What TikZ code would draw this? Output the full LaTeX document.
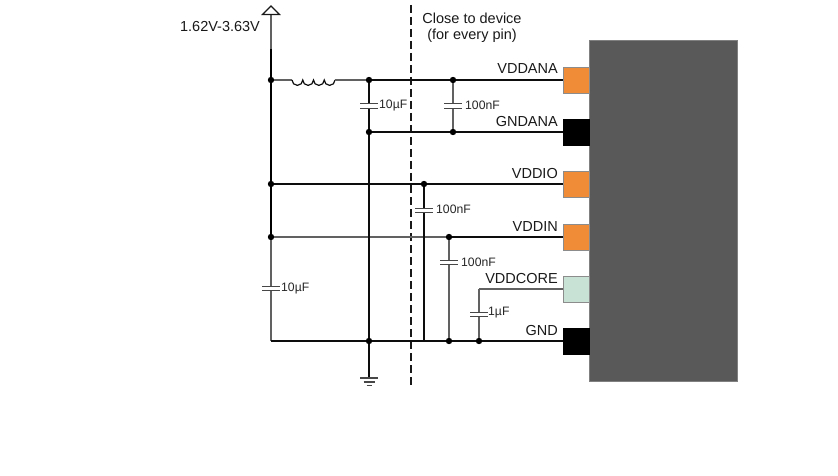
\documentclass[tikz,border=0pt]{standalone}
\usepackage{fontspec}
\setmainfont{Liberation Sans}
\tikzset{
  wire/.style={line width=1.25pt,draw=black!95},
  greywire/.style={line width=1.35pt,draw=black!62},
  heavy/.style={line width=2pt,draw=black},
  plate/.style={line width=1.1pt,draw=black!72},
  dot/.style={circle,fill=black,inner sep=0pt,minimum size=6.4pt},
  pinbox/.style={draw=black!45,line width=0.8pt,minimum width=25.5pt,minimum height=26pt,inner sep=0pt,anchor=west},
  vdd/.style={pinbox,fill=orangepin},
  gndpin/.style={pinbox,fill=black,draw=black},
  corepin/.style={pinbox,fill=corepin},
  pinlabel/.style={anchor=base east,font=\fontsize{14.5}{16}\selectfont,text=black!90,inner sep=0pt},
  val/.style={anchor=west,font=\fontsize{12.2}{14}\selectfont,text=black!85,inner sep=0pt},
  note/.style={font=\fontsize{14.5}{16}\selectfont,text=black!90,inner sep=0pt}
}
\definecolor{orangepin}{HTML}{F08C38}
\definecolor{corepin}{HTML}{C8E2D6}
\definecolor{chipgrey}{HTML}{595959}
\begin{document}
\begin{tikzpicture}[x=1pt,y=-1pt]
\useasboundingbox (0,0) rectangle (838,476);
% chip
\node[draw=black!50,fill=chipgrey,line width=0.8pt,minimum width=148pt,minimum height=341pt,inner sep=0pt,anchor=north west] (chip) at (588.5,40) {};
% pins
\node[vdd] (vddana) at (563,80) {};
\node[gndpin] (gndana) at (563,132) {};
\node[vdd] (vddio) at (563,184) {};
\node[vdd] (vddin) at (563,237) {};
\node[corepin] (vddcore) at (563,289) {};
\node[gndpin] (gnd) at (563,341) {};
% pin labels
\node[pinlabel] (lvddana) at (558,74) {VDDANA};
\node[pinlabel] (lgndana) at (558,126.5) {GNDANA};
\node[pinlabel] (lvddio) at (558,178.5) {VDDIO};
\node[pinlabel] (lvddin) at (558,231) {VDDIN};
\node[pinlabel] (lvddcore) at (558,283.5) {VDDCORE};
\node[pinlabel] (lgnd) at (558,335.5) {GND};
% points
\coordinate (top) at (271,14.5);
\coordinate (heavytop) at (271,49);
\coordinate (corner) at (271,341);
\coordinate (indL) at (292,80);
\coordinate (indR) at (335,80);
\node[dot] (j1) at (271,80) {};
\node[dot] (j2) at (271,184) {};
\node[dot] (j3) at (271,237) {};
\node[dot] (a1) at (369,80) {};
\node[dot] (a2) at (453,80) {};
\node[dot] (b1) at (369,132) {};
\node[dot] (b2) at (453,132) {};
\node[dot] (c1) at (424,184) {};
\node[dot] (d1) at (449,237) {};
\node[dot] (g1) at (369,341) {};
\node[dot] (g2) at (449,341) {};
\node[dot] (g3) at (479,341) {};
\coordinate (g4) at (424,341);
\coordinate (core) at (479,289);
\coordinate (gndtop) at (369,378);
% dashed boundary
\coordinate (dashA) at (411,5);
\coordinate (dashB) at (411,386);
\draw[line width=2pt,dash pattern=on 8pt off 4pt,draw=black!90] (dashA) -- (dashB);
% supply
\draw[greywire] (top) -- (heavytop);
\draw[heavy] (heavytop) -- (j1) -- (j2) -- (j3);
\draw[greywire] (j3) -- (corner);
\draw[draw=black!90,line width=1.2pt,fill=white] (262.5,14.5) -- (271,6) -- (279.5,14.5) -- cycle;
\node[note] (vrange) at (220,27) {1.62V-3.63V};
% inductor
\draw[greywire] (j1) -- (indL);
\draw[wire,line width=1.2pt] (indL)
  arc[start angle=180,end angle=0,radius=5.375]
  arc[start angle=180,end angle=0,radius=5.375]
  arc[start angle=180,end angle=0,radius=5.375]
  arc[start angle=180,end angle=0,radius=5.375];
\draw[greywire] (indR) -- (a1);
% rails
\draw[wire] (a1) -- (a2) -- (vddana.west);
\draw[wire] (b1) -- (b2) -- (gndana.west);
\draw[wire] (j2) -- (c1) -- (vddio.west);
\draw[greywire] (j3) -- (d1);
\draw[wire] (d1) -- (vddin.west);
\draw[wire] (corner) -- (g1);
\draw[wire] (g1) -- (g4) -- (g2) -- (g3) -- (gnd.west);
\draw[greywire] (core) -- (vddcore.west);
% verticals through capacitors
\draw[wire] (a1) -- (b1) -- (g1) -- (gndtop);
\draw[greywire] (a2) -- (b2);
\draw[wire] (c1) -- (g4);
\draw[greywire] (d1) -- (g2);
\draw[greywire] (core) -- (g3);
% capacitor plates (white gap between)
\foreach \cx/\cy in {369/106,453/106,424/210.5,449/262.5,479/314.5,271/288.5}{
  \fill[white] (\cx-9,\cy-2.2) rectangle (\cx+9,\cy+2.2);
  \draw[plate] (\cx-9,\cy-2.4) -- (\cx+9,\cy-2.4);
  \draw[plate] (\cx-9,\cy+2.4) -- (\cx+9,\cy+2.4);
}
\node[val] (v1) at (379,105.5) {10µF};
\node[val] (v2) at (465,105.5) {100nF};
\node[val] (v3) at (436,209.5) {100nF};
\node[val] (v4) at (461,262) {100nF};
\node[val] (v5) at (488,313) {1µF};
\node[val] (v6) at (281,288.5) {10µF};
% ground symbol
\draw[plate] (360,378) -- (378,378);
\draw[plate] (363.5,382) -- (374.5,382);
\draw[plate] (366.5,385.5) -- (371.5,385.5);
% note
\node[note] (close1) at (472,18) {Close to device};
\node[note] (close2) at (472,36) {(for every pin)};
\end{tikzpicture}
\end{document}
